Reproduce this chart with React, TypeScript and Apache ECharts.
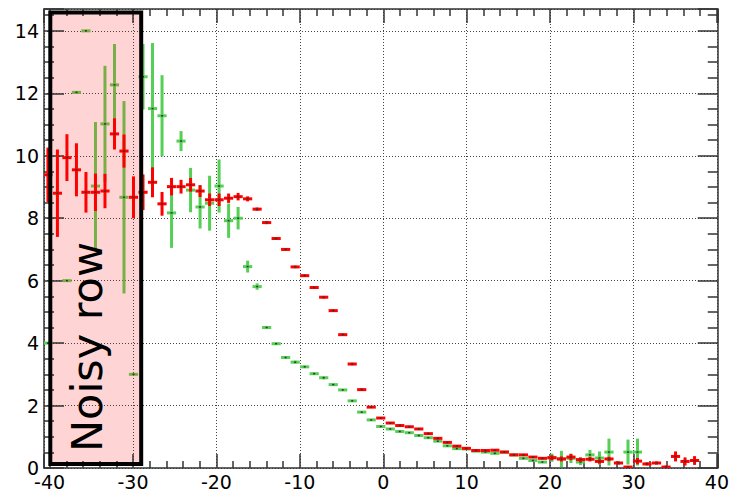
import React, { useEffect, useRef } from 'react';
import * as echarts from 'echarts';

// Bin centres (x)
const binCenters = [
  -40.2, -39.06, -37.92, -36.78, -35.64, -34.5, -33.36, -32.22, -31.08, -29.94,
  -28.8, -27.66, -26.52, -25.38, -24.24, -23.1, -21.96, -20.82, -19.68, -18.54,
  -17.4, -16.26, -15.12, -13.98, -12.84, -11.7, -10.56, -9.42, -8.28, -7.14,
  -6.0, -4.86, -3.72, -2.58, -1.44, -0.3, 0.84, 1.98, 3.12, 4.26,
  5.4, 6.54, 7.68, 8.82, 9.96, 11.1, 12.24, 13.38, 14.52, 15.66,
  16.8, 17.94, 19.08, 20.22, 21.36, 22.5, 23.64, 24.78, 25.92, 27.06,
  28.2, 29.34, 30.48, 31.62, 32.76, 33.9, 35.04, 36.18, 37.32,
];
const BIN_WIDTH = 1.1;

const redValues = [
  9.39, 8.8, 9.94, 9.55, 8.83, 8.83, 8.87, 10.7, 10.15, 8.67,
  8.83, 9.15, 8.46, 9.01, 9.01, 9.07, 8.87, 8.59, 8.59, 8.64,
  8.69, 8.62, 8.29, 7.86, 7.35, 7.0, 6.44, 6.16, 5.78, 5.47,
  5.04, 4.27, 3.33, 2.51, 1.95, 1.6, 1.44, 1.36, 1.32, 1.25,
  1.1, 0.95, 0.82, 0.7, 0.63, 0.56, 0.56, 0.57, 0.51, 0.42,
  0.42, 0.35, 0.31, 0.33, 0.29, 0.35, 0.27, 0.28, 0.21, 0.29,
  0.16, 0.03, 0.22, 0.13, 0.16, 0.03, 0.37, 0.21, 0.24,
];
const redErrors = [
  0.87, 1.4, 0.75, 0.85, 0.65, 0.6, 0.55, 0.5, 0.53, 0.67,
  0.57, 0.48, 0.38, 0.28, 0.22, 0.22, 0.19, 0.2, 0.2, 0.15,
  0.12, 0.08, 0.05, 0.05, 0.04, 0.04, 0.04, 0.04, 0.04, 0.04,
  0.04, 0.04, 0.04, 0.04, 0.03, 0.03, 0.03, 0.03, 0.03, 0.03,
  0.03, 0.03, 0.03, 0.03, 0.03, 0.03, 0.03, 0.03, 0.03, 0.03,
  0.03, 0.03, 0.03, 0.08, 0.08, 0.1, 0.07, 0.07, 0.07, 0.07,
  0.05, 0.03, 0.1, 0.05, 0.05, 0.05, 0.16, 0.13, 0.14,
];

const greenValues: (number | null)[] = [
  4.0, null, 6.0, 12.03, 14.0, 9.03, 11.02, 12.27, 8.67, 3.0,
  12.53, 11.51, 11.28, 8.17, 10.47, 8.9, 8.36, 8.48, 9.03, 7.92,
  8.0, 6.45, 5.81, 4.5, 3.98, 3.54, 3.39, 3.24, 3.02, 2.89,
  2.67, 2.5, 2.15, 1.79, 1.54, 1.33, 1.25, 1.17, 1.13, 1.04,
  0.97, 0.86, 0.71, 0.62, 0.61, 0.54, 0.51, 0.47, 0.51, 0.42,
  0.31, 0.24, 0.19, 0.33, 0.29, 0.31, 0.19, 0.42, 0.32, 0.51,
  null, 0.51, 0.51, null, null, null, null, null, null,
];
const greenErrors = [
  0, 0, 0, 0, 0, 2.05, 1.86, 1.31, 3.08, 0,
  1.05, 2.1, 1.3, 1.12, 0.32, 0.71, 0.69, 0.88, 0.85, 0.55,
  0.36, 0.19, 0.1, 0.05, 0.04, 0.04, 0.05, 0.04, 0.04, 0.05,
  0.04, 0.03, 0.03, 0.03, 0.03, 0.03, 0.03, 0.03, 0.03, 0.03,
  0.03, 0.03, 0.03, 0.03, 0.03, 0.03, 0.03, 0.03, 0.03, 0.03,
  0.03, 0.03, 0.03, 0.13, 0.26, 0.15, 0.1, 0.16, 0.21, 0.43,
  0, 0.4, 0.43, 0, 0, 0, 0, 0, 0,
];

const xTickLabels = [-40, -30, -20, -10, 0, 10, 20, 30, 40];
const yTickLabels = [0, 2, 4, 6, 8, 10, 12, 14];
const X_MIN = -40.67;
const X_MAX = 40.1;
const Y_MIN = 0;
const Y_MAX = 14.7;
const BOX_X_RANGE = [-40, -29.05];
const NOISY_LABEL = 'Noisy row';

const FONT = '"DejaVu Sans", sans-serif';
const AXIS_COLOR = '#333';
const RED = '#ff0000';
const GREEN = '#55cf55';
const GREEN_IN_BOX = '#76b046';

function makeRender(colorFor: (x: number) => string) {
  return (params: any, api: any) => {
    const x = api.value(0);
    const y = api.value(1);
    const e = api.value(2);
    const color = colorFor(x);
    const l = api.coord([x - BIN_WIDTH / 2, y]);
    const r = api.coord([x + BIN_WIDTH / 2, y]);
    const c = api.coord([x, y]);
    const t = api.coord([x, y + e]);
    const b = api.coord([x, y - e]);
    const children: any[] = [
      { type: 'line', shape: { x1: l[0], y1: l[1], x2: r[0], y2: r[1] }, style: { stroke: color, lineWidth: 3 } },
    ];
    if (e > 0) {
      children.push({ type: 'line', shape: { x1: t[0], y1: t[1], x2: b[0], y2: b[1] }, style: { stroke: color, lineWidth: 3 } });
    }
    children.push({ type: 'rect', shape: { x: c[0] - 1, y: c[1] - 0.75, width: 2, height: 1.5 }, style: { fill: '#333' } });
    return { type: 'group', children };
  };
}

export default function App() {
  const ref = useRef<HTMLDivElement>(null);
  useEffect(() => {
    document.body.style.margin = '0';
    const chart = echarts.init(ref.current!, null, { renderer: 'svg' });

    const xFormatter = (v: number) => {
      const r = Math.round(v);
      return Math.abs(v - r) < 1e-6 && xTickLabels.includes(r) ? String(r) : '';
    };
    const yFormatter = (v: number) => {
      const r = Math.round(v);
      return Math.abs(v - r) < 1e-6 && yTickLabels.includes(r) ? String(r) : '';
    };

    const lineStyle = { color: AXIS_COLOR, width: 1.5 };
    const xBase = (position: 'bottom' | 'top', labels: boolean, split: boolean) => ({
      type: 'value',
      position,
      min: X_MIN,
      max: X_MAX,
      splitNumber: 8,
      axisLine: { show: true, onZero: false, lineStyle },
      axisTick: { show: true, inside: true, length: 14, lineStyle },
      minorTick: { show: true, splitNumber: 5, length: 7, lineStyle },
      splitLine: { show: split, lineStyle: { color: '#444', width: 1, type: [1, 2] } },
      minorSplitLine: { show: false },
      axisLabel: {
        show: labels,
        interval: 0,
        formatter: xFormatter,
        color: '#000',
        fontSize: 19,
        fontFamily: FONT,
        margin: 4,
      },
    });
    const yBase = (position: 'left' | 'right', labels: boolean, split: boolean) => ({
      type: 'value',
      position,
      min: Y_MIN,
      max: Y_MAX,
      splitNumber: 7,
      axisLine: { show: true, onZero: false, lineStyle },
      axisTick: { show: true, inside: true, length: 20, lineStyle },
      minorTick: { show: true, splitNumber: 4, length: 10, lineStyle },
      splitLine: { show: split, lineStyle: { color: '#444', width: 1, type: [1, 2] } },
      minorSplitLine: { show: false },
      axisLabel: {
        show: labels,
        interval: 0,
        formatter: yFormatter,
        color: '#000',
        fontSize: 19,
        fontFamily: FONT,
        margin: 5,
      },
    });

    const greenData = binCenters
      .map((x, i) => [x, greenValues[i], greenErrors[i]])
      .filter((d) => d[1] !== null);
    const redData = binCenters.map((x, i) => [x, redValues[i], redErrors[i]]);

    chart.setOption({
      animation: false,
      backgroundColor: '#fff',
      grid: { left: 44, right: 10, top: 9, bottom: 23, containLabel: false },
      xAxis: [xBase('bottom', true, true), xBase('top', false, false)],
      yAxis: [yBase('left', true, true), yBase('right', false, false)],
      series: [
        {
          type: 'custom',
          name: 'green',
          clip: true,
          z: 3,
          renderItem: makeRender((x) => (x > BOX_X_RANGE[0] && x < BOX_X_RANGE[1] ? GREEN_IN_BOX : GREEN)),
          data: greenData,
        },
        {
          type: 'custom',
          name: 'red',
          clip: true,
          z: 4,
          renderItem: makeRender(() => RED),
          data: redData,
        },
      ],
      graphic: [
        {
          type: 'rect',
          z: -1,
          silent: true,
          shape: { x: 50.3, y: 12.5, width: 90.9, height: 451.5 },
          style: { fill: '#ffd4d4', stroke: 'none' },
        },
        {
          type: 'rect',
          z: 10,
          silent: true,
          shape: { x: 50.3, y: 12.5, width: 90.9, height: 451.5 },
          style: { fill: 'none', stroke: '#000', lineWidth: 4 },
        },
        {
          type: 'text',
          z: 11,
          silent: true,
          x: 87,
          y: 347,
          rotation: Math.PI / 2,
          style: {
            text: NOISY_LABEL,
            font: `43px ${FONT}`,
            fill: '#000',
            align: 'center',
            verticalAlign: 'middle',
          },
        },
      ],
    });
    return () => chart.dispose();
  }, []);
  return <div ref={ref} style={{ width: 732, height: 491 }} />;
}
